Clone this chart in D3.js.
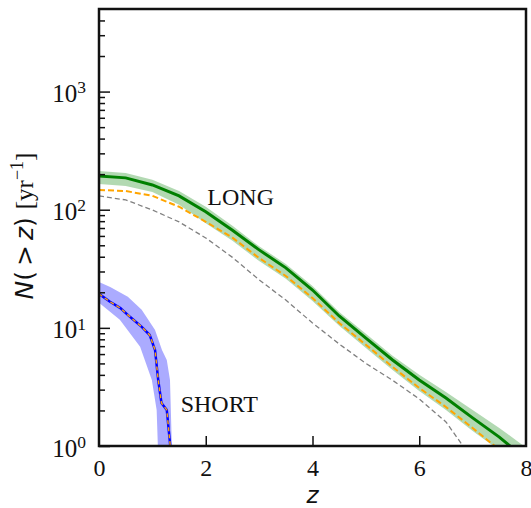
<!DOCTYPE html>
<html>
<head>
<meta charset="utf-8">
<script src="https://cdn.jsdelivr.net/npm/d3@7"></script>
<style>
  body { margin: 0; background: #fff; }
  .tick text { font-family: "Liberation Serif", "DejaVu Serif", serif; fill: #111; }
  .tick line { stroke: #111; stroke-width: 1.5; }
</style>
</head>
<body>
<div id="chart"></div>
<script>
// LONG population
const longZ   = [0, 0.5, 1, 1.5, 2, 2.5, 3, 3.5, 4, 4.5, 5, 5.5, 6, 6.5, 7, 7.5, 7.7, 8];
const longMed = [193, 186, 162, 131, 96, 67, 45.7, 32.2, 20.9, 12.6, 8.2, 5.35, 3.62, 2.55, 1.73, 1.19, 1.0, 0.8];

const longBandZ  = [0, 0.5, 1, 1.5, 2, 2.5, 3, 3.5, 4, 4.5, 5, 5.5, 6, 6.5, 7, 7.5, 8];
const longUpper  = [213, 205, 179, 144, 106, 73, 49, 34.8, 22.6, 13.6, 8.9, 5.8, 4.0, 2.87, 2.02, 1.42, 0.97];
const longLower  = [165, 159, 141, 110, 77, 54.5, 36.8, 26, 16.9, 10.4, 6.76, 4.4, 2.92, 2.02, 1.34, 0.92, 0.7];

const longOrangeZ = [0, 0.5, 1, 1.5, 2, 2.5, 3, 3.5, 4, 4.5, 5, 5.5, 6, 6.5, 7, 7.5];
const longOrange  = [147, 144, 131, 106, 79, 58, 39, 27.5, 17.9, 11, 7.2, 4.67, 3.1, 2.14, 1.42, 0.93];

const longGrayZ = [0, 0.5, 1, 1.5, 2, 2.5, 3, 3.5, 4, 4.5, 5, 5.5, 6, 6.5, 6.82];
const longGray  = [131, 121, 99.5, 78.8, 57.7, 39.5, 25.5, 17.2, 11.0, 7.3, 5.0, 3.6, 2.5, 1.6, 1.0];

// SHORT population
const shortZ = [0, 0.2, 0.4, 0.58, 0.8, 0.95, 1.05, 1.11, 1.17, 1.27, 1.33, 1.34];
const shortN = [19.4, 16.7, 14.7, 12.4, 10.2, 8.7, 6.5, 3.6, 2.31, 2.02, 1.06, 0.9];

const shortUpZ = [0, 0.21, 0.54, 0.8, 1.05, 1.18, 1.27, 1.33, 1.36, 1.38];
const shortUpN = [24.5, 22.2, 18.3, 14.2, 9.6, 6.5, 5.35, 3.62, 1.2, 0.8];
const shortLoZ = [0, 0.39, 0.77, 0.99, 1.08, 1.11];
const shortLoN = [16.3, 11.7, 6.93, 3.62, 2.02, 0.8];

// axes
const xTicks = [0, 2, 4, 6, 8];
const yMajor = [1, 10, 100, 1000];
const yExp   = ["0", "1", "2", "3"];
const yMinor = [2,3,4,5,6,7,8,9, 20,30,40,50,60,70,80,90, 200,300,400,500,600,700,800,900, 2000,3000,4000];

const W = 531, H = 508;
const margin = {top: 9, right: 5, bottom: 62, left: 99};
const w = W - margin.left - margin.right;
const h = H - margin.top - margin.bottom;

const x = d3.scaleLinear().domain([0, 8]).range([0, w]);
const y = d3.scaleLog().domain([1, 5000]).range([h, 0]);

const svg = d3.select('#chart').append('svg')
  .attr('width', W).attr('height', H);

const g = svg.append('g')
  .attr('transform', 'translate(' + margin.left + ',' + margin.top + ')');

g.append('clipPath').attr('id', 'clip')
  .append('rect').attr('width', w).attr('height', h);

const plot = g.append('g').attr('clip-path', 'url(#clip)');

const zip = (zs, ns) => zs.map((z, i) => [z, ns[i]]);
const line = d3.line().x(d => x(d[0])).y(d => y(d[1]));

// long band
const longBand = longBandZ.map((z, i) => ({z: z, hi: longUpper[i], lo: longLower[i]}));
plot.append('path')
  .datum(longBand)
  .attr('fill', 'green').attr('fill-opacity', 0.3)
  .attr('d', d3.area().x(d => x(d.z)).y0(d => y(d.lo)).y1(d => y(d.hi)));

// short band (upper edge, then lower edge reversed)
const shortPoly = zip(shortUpZ, shortUpN).concat(zip(shortLoZ, shortLoN).reverse());
plot.append('path')
  .datum(shortPoly)
  .attr('fill', 'blue').attr('fill-opacity', 0.33)
  .attr('d', d => line(d) + 'Z');

// gray dashed
plot.append('path')
  .datum(zip(longGrayZ, longGray))
  .attr('fill', 'none').attr('stroke', 'gray').attr('stroke-width', 1.3)
  .attr('stroke-dasharray', '5,3')
  .attr('d', line);

// green median
plot.append('path')
  .datum(zip(longZ, longMed))
  .attr('fill', 'none').attr('stroke', 'green').attr('stroke-width', 3)
  .attr('d', line);

// orange dashed (long)
plot.append('path')
  .datum(zip(longOrangeZ, longOrange))
  .attr('fill', 'none').attr('stroke', 'orange').attr('stroke-width', 2)
  .attr('stroke-dasharray', '6,3')
  .attr('d', line);

// short: blue with orange dashes on top
plot.append('path')
  .datum(zip(shortZ, shortN))
  .attr('fill', 'none').attr('stroke', 'blue').attr('stroke-width', 2.5)
  .attr('d', line);
plot.append('path')
  .datum(zip(shortZ, shortN))
  .attr('fill', 'none').attr('stroke', 'orange').attr('stroke-width', 1.4)
  .attr('stroke-dasharray', '4,3')
  .attr('d', line);

// axes
const xAxis = g.append('g')
  .attr('transform', 'translate(0,' + h + ')')
  .call(d3.axisBottom(x).tickValues(xTicks).tickSize(-10).tickPadding(13).tickFormat(d3.format('d')));
xAxis.select('.domain').remove();
xAxis.selectAll('.tick text').attr('font-size', '24px');
xAxis.selectAll('.tick').filter(d => d === 0 || d === 8).select('line').remove();

const yMin = g.append('g')
  .call(d3.axisLeft(y).tickValues(yMinor).tickSize(-6).tickFormat(''));
yMin.select('.domain').remove();

const yAx = g.append('g')
  .call(d3.axisLeft(y).tickValues(yMajor).tickSize(-11).tickPadding(13).tickFormat(''));
yAx.select('.domain').remove();
yAx.selectAll('.tick text')
  .attr('font-size', '25px').attr('dy', '0.4em')
  .each(function (d, i) {
    const t = d3.select(this);
    t.append('tspan').text('10');
    t.append('tspan').attr('dy', '-0.5em').attr('font-size', '17.5px').text(yExp[i]);
  });

// frame
g.append('rect')
  .attr('width', w).attr('height', h)
  .attr('fill', 'none').attr('stroke', '#111').attr('stroke-width', 2.5);

// annotations
g.append('text')
  .attr('x', x(2.03)).attr('y', 196)
  .attr('font-family', '"Liberation Serif", serif').attr('font-size', '24px').attr('fill', '#111')
  .text('LONG');
g.append('text')
  .attr('x', x(1.53)).attr('y', 403)
  .attr('font-family', '"Liberation Serif", serif').attr('font-size', '24px').attr('fill', '#111')
  .text('SHORT');

// axis labels
svg.append('text')
  .attr('x', margin.left + w / 2).attr('y', 503)
  .attr('text-anchor', 'middle')
  .attr('font-family', '"DejaVu Sans", sans-serif').attr('font-style', 'italic')
  .attr('font-size', '23px').attr('fill', '#111')
  .text('z');

const yl = svg.append('text')
  .attr('transform', 'translate(33,226) rotate(-90)')
  .attr('text-anchor', 'middle')
  .attr('font-size', '25px').attr('fill', '#111');
yl.append('tspan').attr('font-family', '"DejaVu Sans", sans-serif').attr('font-style', 'italic').text('N');
yl.append('tspan').attr('font-family', '"DejaVu Sans", sans-serif').text('(\u2009>\u2009');
yl.append('tspan').attr('font-family', '"DejaVu Sans", sans-serif').attr('font-style', 'italic').text('z');
yl.append('tspan').attr('font-family', '"DejaVu Sans", sans-serif').text(') ');
yl.append('tspan').attr('font-family', '"Liberation Serif", serif').text('[yr');
yl.append('tspan').attr('font-family', '"Liberation Serif", serif').attr('font-size', '18px').attr('dy', '-0.55em').text('\u22121');
yl.append('tspan').attr('font-family', '"Liberation Serif", serif').attr('dy', '0.4em').text(']');
</script>
</body>
</html>
